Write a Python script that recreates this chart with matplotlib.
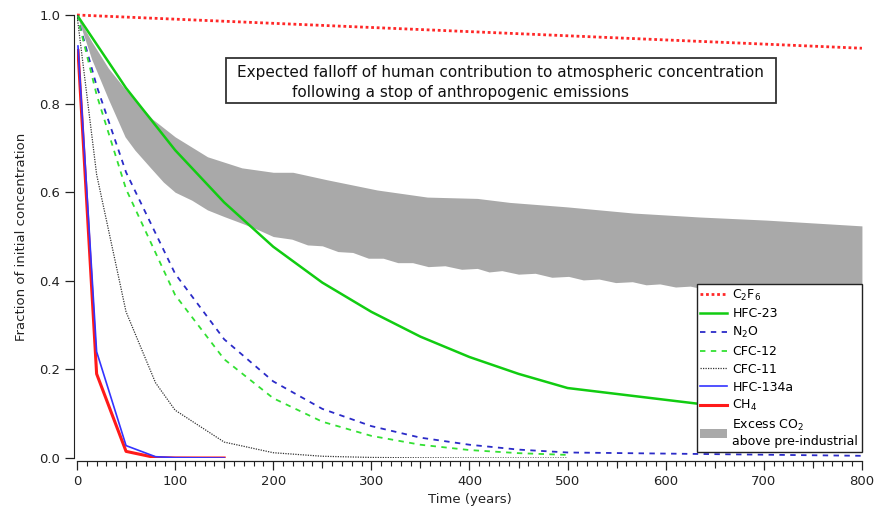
import numpy as np
import matplotlib
matplotlib.use("Agg")
import matplotlib.pyplot as plt
from matplotlib.patches import Rectangle, Patch
from matplotlib.ticker import MultipleLocator, FixedLocator

plt.rcParams['font.family'] = ['DejaVu Sans']
plt.rcParams['mathtext.default'] = 'regular'

# --- data ---
c2f6_t = [0, 800]
c2f6 = [1.0, 0.925]

hfc23_t = [0, 50, 100, 150, 200, 250, 300, 350, 400, 450, 500, 800]
hfc23 = [1.0, 0.835, 0.695, 0.577, 0.477, 0.396, 0.33, 0.274, 0.228, 0.19, 0.158, 0.078]

n2o_t = [0, 20, 50, 100, 150, 200, 250, 300, 350, 400, 450, 500, 800]
n2o = [1.0, 0.84, 0.645, 0.416, 0.268, 0.173, 0.111, 0.072, 0.046, 0.030, 0.019, 0.0125, 0.005]

cfc12_t = [0, 20, 50, 100, 150, 200, 250, 300, 350, 400, 450, 500]
cfc12 = [1.0, 0.82, 0.607, 0.368, 0.223, 0.135, 0.082, 0.05, 0.03, 0.018, 0.011, 0.007]

cfc11_t = [0, 20, 50, 80, 100, 150, 200, 250, 300, 350, 400, 450, 500]
cfc11 = [1.0, 0.64, 0.33, 0.17, 0.108, 0.036, 0.012, 0.004, 0.0013, 0.0004, 0.0001, 0.0, 0.0]

hfc134a_t = [1, 20, 50, 80, 100, 150]
hfc134a = [0.93, 0.24, 0.028, 0.003, 0.0008, 0.0]

ch4_t = [1, 20, 50, 80, 100, 150]
ch4 = [0.92, 0.19, 0.015, 0.001, 0.0002, 0.0]

co2_up_t = [0, 15, 32, 50, 77, 100, 133, 168, 200, 220, 255, 306, 357, 408, 441,
            499, 567, 635, 703, 800]
co2_up = [1.0, 0.94, 0.88, 0.83, 0.765, 0.725, 0.68, 0.655, 0.645, 0.645, 0.628,
          0.605, 0.589, 0.586, 0.577, 0.567, 0.553, 0.544, 0.537, 0.524]

co2_lo_t = [0, 15, 32, 49, 59, 75, 88, 100, 117, 133, 150, 168, 185, 200, 219, 235,
            250, 266, 281, 297, 312, 327, 342, 358, 375, 392, 408, 420, 433, 450,
            467, 484, 501, 516, 532, 549, 566, 580, 594, 610, 625, 640, 655, 675,
            700, 750, 800]
co2_lo = [1.0, 0.90, 0.81, 0.725, 0.695, 0.655, 0.623, 0.60, 0.582, 0.56, 0.545,
          0.53, 0.515, 0.50, 0.494, 0.481, 0.479, 0.466, 0.464, 0.451, 0.451, 0.441,
          0.441, 0.432, 0.434, 0.426, 0.428, 0.420, 0.423, 0.415, 0.417, 0.408,
          0.410, 0.402, 0.404, 0.396, 0.398, 0.391, 0.393, 0.386, 0.388, 0.381,
          0.384, 0.378, 0.376, 0.371, 0.367]

fig = plt.figure(figsize=(8.78, 5.14), dpi=100)
ax = fig.add_axes([0.0877, 0.1089, 0.894, 0.8619])

# CO2 band (both edges on a common grid of the read points)
band_t = np.array(sorted(set(co2_up_t) | set(co2_lo_t)))
ax.fill_between(band_t, np.interp(band_t, co2_lo_t, co2_lo),
                np.interp(band_t, co2_up_t, co2_up), color='#a9a9a9', lw=0)

ax.plot(c2f6_t, c2f6, color='#ff2828', lw=2, ls=(0, (1, 1)), clip_on=False)
ax.plot(hfc23_t, hfc23, color='#11cc11', lw=1.8)
ax.plot(n2o_t, n2o, color='#2b2bc8', lw=1.3, ls=(0, (3, 3)))
ax.plot(cfc12_t, cfc12, color='#33e033', lw=1.3, ls=(0, (3, 3)))
ax.plot(cfc11_t, cfc11, color='#333333', lw=0.9, ls=(0, (1, 1)))
ax.plot(ch4_t, ch4, color='#ff1a1a', lw=2.2)
ax.plot(hfc134a_t, hfc134a, color='#3333ff', lw=1.2)

ax.set_xlim(0, 800)
ax.set_ylim(0, 1.0)
for s in ['top', 'right']:
    ax.spines[s].set_visible(False)
for s in ['left', 'bottom']:
    ax.spines[s].set_position(('outward', 2))
    ax.spines[s].set_color('#222222')

ax.xaxis.set_major_locator(MultipleLocator(100))
ax.xaxis.set_minor_locator(MultipleLocator(10))
ax.yaxis.set_major_locator(MultipleLocator(0.2))
ax.tick_params(axis='both', which='major', direction='out', length=6.5, width=0.9,
               labelsize=9.5, color='#222222', labelcolor='#222222')
ax.tick_params(axis='x', which='minor', direction='out', length=3.5, width=0.8, color='#222222')
ax.yaxis.set_major_formatter(matplotlib.ticker.FormatStrFormatter('%.1f'))

# medium ticks every 50 years
sec = ax.secondary_xaxis('bottom')
sec.spines['bottom'].set_position(('outward', 2))
sec.xaxis.set_major_locator(FixedLocator([50, 150, 250, 350, 450, 550, 650, 750]))
sec.tick_params(direction='out', length=5, width=0.8, labelbottom=False, color='#222222')

ax.set_xlabel('Time (years)', fontsize=9.5, color='#222222', labelpad=4)
ax.set_ylabel('Fraction of initial concentration', fontsize=9.5, color='#222222', labelpad=8)

handles = [
    plt.Line2D([], [], color='#ff2828', lw=2, ls=(0, (1, 1))),
    plt.Line2D([], [], color='#11cc11', lw=1.8),
    plt.Line2D([], [], color='#2b2bc8', lw=1.3, ls=(0, (3, 3))),
    plt.Line2D([], [], color='#33e033', lw=1.3, ls=(0, (3, 3))),
    plt.Line2D([], [], color='#333333', lw=0.9, ls=(0, (1, 1))),
    plt.Line2D([], [], color='#3333ff', lw=1.2),
    plt.Line2D([], [], color='#ff1a1a', lw=2.2),
    Patch(facecolor='#a9a9a9', edgecolor='none'),
]
labels = ['C$_2$F$_6$', 'HFC-23', 'N$_2$O', 'CFC-12', 'CFC-11', 'HFC-134a', 'CH$_4$',
          'Excess CO$_2$\nabove pre-industrial']
leg = ax.legend(handles, labels, loc='lower right', bbox_to_anchor=(1.0, 0.0135),
                borderaxespad=0, fontsize=9, frameon=True, fancybox=False,
                edgecolor='#222222', framealpha=1, handlelength=2.1,
                handletextpad=0.45, labelspacing=0.38, borderpad=0.3)
leg.get_frame().set_linewidth(1.0)

# title box
fig.patches.append(Rectangle((0.2574, 0.7996), 0.6264, 0.0875, transform=fig.transFigure,
                             fill=True, facecolor='white', edgecolor='#333333', lw=1.3))
fig.text(0.27, 0.858, 'Expected falloff of human contribution to atmospheric concentration',
         fontsize=11, va='center', ha='left', color='#111111')
fig.text(0.3326, 0.821, 'following a stop of anthropogenic emissions',
         fontsize=11, va='center', ha='left', color='#111111')

fig.savefig('out.png', dpi=100)
